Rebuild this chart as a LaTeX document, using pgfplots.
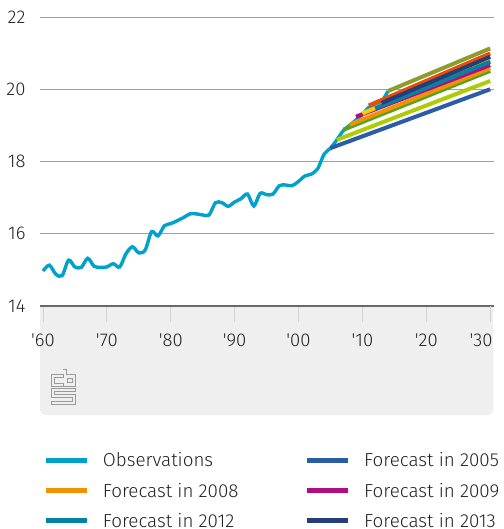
\documentclass[border=0pt]{standalone}
\usepackage{fontspec}
\setmainfont{Fira Sans}[UprightFont={* Light}]
\usepackage{pgfplots}
\pgfplotsset{compat=1.18}

\definecolor{obs}{HTML}{00A1CD}
\definecolor{f05}{HTML}{2A5CA8}
\definecolor{f06}{HTML}{AFCB05}
\definecolor{f07}{HTML}{53A31D}
\definecolor{f08}{HTML}{F39200}
\definecolor{f09}{HTML}{AF0E80}
\definecolor{f10}{HTML}{FFCC00}
\definecolor{f11}{HTML}{E94C0A}
\definecolor{f12}{HTML}{0581A2}
\definecolor{f13}{HTML}{243F78}
\definecolor{f14}{HTML}{8C9D2B}
\definecolor{panel}{HTML}{EFEFEF}
\definecolor{gridgray}{HTML}{A0A0A0}
\definecolor{axisgray}{HTML}{6A6A6A}
\definecolor{tickgray}{HTML}{D2D2D2}
\definecolor{txt}{HTML}{222222}
\definecolor{logo}{HTML}{9A9A9A}

\pgfplotstableread{
year val
1960 14.97
1961 15.13
1962 14.88
1963 14.84
1964 15.27
1965 15.08
1966 15.07
1967 15.32
1968 15.10
1969 15.07
1970 15.08
1971 15.17
1972 15.08
1973 15.45
1974 15.64
1975 15.47
1976 15.55
1977 16.06
1978 15.94
1979 16.22
1980 16.28
1981 16.36
1982 16.45
1983 16.55
1984 16.55
1985 16.52
1986 16.52
1987 16.86
1988 16.86
1989 16.76
1990 16.88
1991 16.97
1992 17.10
1993 16.77
1994 17.12
1995 17.08
1996 17.10
1997 17.33
1998 17.35
1999 17.33
2000 17.45
2001 17.60
2002 17.65
2003 17.80
2004 18.20
2005 18.37
2006 18.60
2007 18.85
2008 19.00
2009 19.15
2010 19.30
2011 19.50
2012 19.55
2013 19.65
2014 19.95
}\obsdata

\begin{document}
\begin{tikzpicture}
% grey panel under the time axis
\fill[panel] (0,0) [rounded corners=5pt] -- (0,-109pt) -- (453pt,-109pt) [sharp corners] -- (453pt,0) -- cycle;

% cbs logo
\begin{scope}[shift={(11pt,-63pt)}, y=-1pt, x=1pt, draw=logo, line width=0.8pt]
  \draw (0,5) -- (12,5) -- (12,8) -- (3,8) -- (3,14) -- (12,14) -- (12,17) -- (0,17) -- cycle;
  \draw (12,0) -- (15,0) -- (15,5) -- (24,5) -- (24,17) -- (12,17);
  \draw (16,9) rectangle (21,13);
  \draw (0,19) -- (24,19) -- (24,22) -- (3,22) -- (3,25) -- (24,25) -- (24,35) -- (0,35) -- (0,32) -- (21,32) -- (21,28) -- (0,28) -- cycle;
\end{scope}

\begin{axis}[
  at={(0,0)}, anchor=south west,
  scale only axis, width=454pt, height=289pt,
  xmin=1959.53, xmax=2030.6, ymin=14, ymax=22,
  axis x line=bottom, axis y line=left,
  x axis line style={-, draw=axisgray, line width=1.2pt},
  y axis line style={draw=none},
  xtick={1960,1970,...,2020},
  xticklabels={\textquotesingle60,\textquotesingle70,\textquotesingle80,\textquotesingle90,\textquotesingle00,\textquotesingle10,\textquotesingle20},
  extra x ticks={2030},
  extra x tick labels={\textquotesingle30},
  extra x tick style={xticklabel style={xshift=-9pt}, xtick style={draw=tickgray, line width=0.9pt}},
  ytick={14,16,...,22},
  ymajorgrids, grid style={gridgray, line width=0.9pt},
  major tick length=16pt, tick align=outside,
  xtick style={draw=tickgray, line width=0.9pt},
  ytick style={draw=none},
  tick label style={font=\fontsize{18.5}{21}\selectfont, text=txt},
  /pgf/number format/assume math mode=true,
  xticklabel style={anchor=base, yshift=-24pt},
  yticklabel style={anchor=east, xshift=5pt},
  legend columns=4,
  legend cell align=left,
  legend style={at={(0.0066,-0.50)}, anchor=north west, draw=none, fill=none,
    font=\fontsize{18.8}{21}\selectfont, text=txt, inner sep=0pt,
    row sep=10.5pt,
    /tikz/every odd column/.append style={column sep=12pt},
    /tikz/every even column/.append style={column sep=64pt}},
  legend image code/.code={\draw[#1, line width=4.7pt] (0pt,0pt) -- (41pt,0pt);},
  every axis plot/.append style={line width=4pt},
]
\addplot[obs, line width=3.4pt, smooth, tension=0.5] table[x=year, y=val] {\obsdata};
\addlegendentry{Observations}
\addplot[f05] coordinates {(2005,18.37) (2030,20.00)};
\addlegendentry{Forecast in 2005}
\addplot[f06] coordinates {(2006,18.60) (2030,20.23)};
\addlegendentry{Forecast in 2006}
\addplot[f07] coordinates {(2007,18.88) (2030,20.51)};
\addlegendentry{Forecast in 2007}
\addplot[f08] coordinates {(2008,19.02) (2030,20.58)};
\addlegendentry{Forecast in 2008}
\addplot[f09] coordinates {(2009,19.24) (2030,20.67)};
\addlegendentry{Forecast in 2009}
\addplot[f10] coordinates {(2010,19.33) (2030,20.81)};
\addlegendentry{Forecast in 2010}
\addplot[f11] coordinates {(2011,19.55) (2030,20.99)};
\addlegendentry{Forecast in 2011}
\addplot[f12] coordinates {(2012,19.47) (2030,20.76)};
\addlegendentry{Forecast in 2012}
\addplot[f13] coordinates {(2013,19.62) (2030,20.90)};
\addlegendentry{Forecast in 2013}
\addplot[f14] coordinates {(2014,19.95) (2030,21.13)};
\addlegendentry{Forecast in 2014}
\end{axis}

\pgfresetboundingbox
\path (-40pt,306pt) rectangle (463pt,-223pt);
\end{tikzpicture}
\end{document}
